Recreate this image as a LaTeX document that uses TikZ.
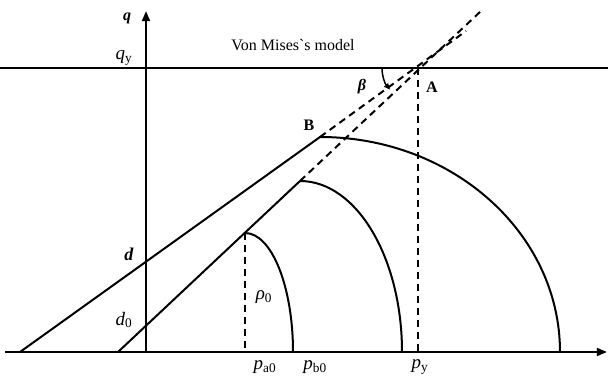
\documentclass[tikz,border=0pt]{standalone}
\usepackage{fontspec}
\setmainfont{Liberation Serif}
\newfontfamily\plainserif{Liberation Serif}
\usetikzlibrary{arrows.meta,positioning}

\begin{document}
\begin{tikzpicture}[x=1pt,y=1pt]
\tikzset{
  axisline/.style={draw=black,line width=2.2pt,-{Triangle[length=3.6mm,width=2.8mm]}},
  plainline/.style={draw=black,line width=2pt,line cap=round,line join=round},
  guideline/.style={draw=black,line width=2pt,dash pattern=on 7pt off 5pt},
  curvearc/.style={draw=black,line width=2pt},
  lbl/.style={inner sep=1pt,font=\fontsize{19}{22}\selectfont},
  boldlbl/.style={inner sep=1pt,font=\fontsize{16}{19}\selectfont\bfseries}
}
\useasboundingbox (0,0) rectangle (608,381);
% axes
\coordinate (ax_L) at (5,29);
\coordinate (ax_R) at (607,29);
\coordinate (O) at (146,29);
\coordinate (ax_T) at (146,370);
\coordinate (qy_L) at (0,313);
\coordinate (qy_R) at (608,313);
% points on the two envelope lines
\coordinate (n_d) at (20,29);
\coordinate (n_B) at (320,244);
\coordinate (n_A) at (415,313);
\coordinate (n_dE) at (466,350);
\coordinate (n_d0) at (118,29);
\coordinate (n_Pa) at (245,148);
\coordinate (n_Pb) at (300,200);
\coordinate (n_d0E) at (481,370);
\coordinate (n_pa) at (245,29);
\coordinate (n_py) at (418,29);
\coordinate (n_pyT) at (418,313);
\draw[axisline] (ax_L) -- (ax_R);
\draw[axisline] (O) -- (ax_T);
\draw[plainline] (qy_L) -- (qy_R);
% strength lines
\draw[plainline] (n_d) -- (n_B);
\draw[guideline] (n_B) -- (n_dE);
\draw[plainline] (n_d0) -- (n_Pb);
\draw[guideline] (n_Pb) -- (n_d0E);
\draw[guideline] (n_Pa) -- (n_pa);
\draw[guideline] (n_pyT) -- (n_py);
% caps
\draw[curvearc] (n_Pa) arc[start angle=90,end angle=0,x radius=48,y radius=119];
\draw[curvearc] (n_Pb) arc[start angle=90,end angle=0,x radius=102,y radius=171];
\draw[curvearc] (n_B) arc[start angle=90,end angle=0,x radius=240,y radius=215];
% angle beta
\draw[line width=1.5pt,-{Triangle[length=2.2mm,width=1.8mm]}] ([shift={(180:33)}]n_A) arc[start angle=180,end angle=221,radius=33];
% labels
\node[boldlbl] (t_q) at (127,363) {\textit{q}};
\node[lbl] (t_qy) at (124,323) {\textit{q}\textsubscript{y}};
\node[inner sep=1pt,font=\fontsize{16}{19}\selectfont] (t_title) at (293,336) {Von Mises{\plainserif`}s model};
\node[boldlbl] (t_beta) at (362,294) {\textit{β}};
\node[boldlbl] (t_A) at (432,294) {A};
\node[boldlbl] (t_B) at (309,256) {B};
\node[boldlbl,font=\fontsize{18}{20}\selectfont\bfseries] (t_d) at (129,127) {\textit{d}};
\node[lbl] (t_d0) at (124,61) {\textit{d}\textsubscript{0}};
\node[lbl] (t_rho) at (264,84) {\textit{ρ}\textsubscript{0}};
\node[lbl] (t_pa) at (265,14) {\textit{p}\textsubscript{a0}};
\node[lbl] (t_pb) at (315,14) {\textit{p}\textsubscript{b0}};
\node[lbl] (t_py) at (420,14) {\textit{p}\textsubscript{y}};
\end{tikzpicture}
\end{document}
